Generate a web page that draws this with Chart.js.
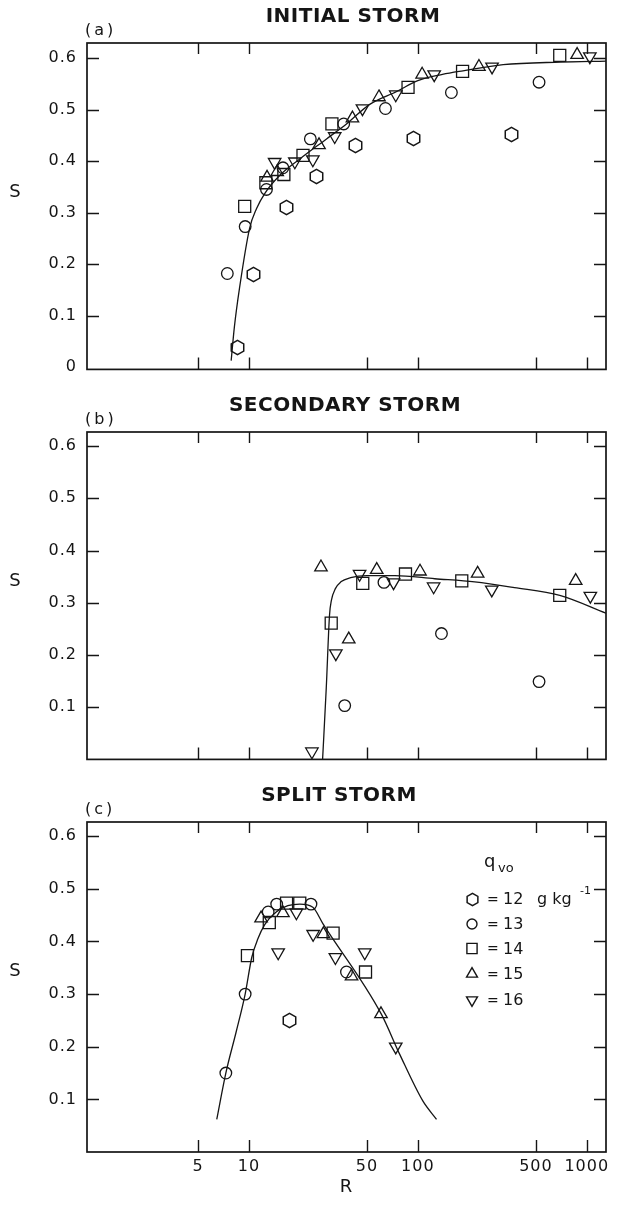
<!DOCTYPE html>
<html>
<head>
<meta charset="utf-8">
<script src="https://cdn.jsdelivr.net/npm/chart.js@4.4.1/dist/chart.umd.min.js"></script>
<style>
  html, body { margin: 0; padding: 0; background: #fff; }
  #wrap { position: relative; width: 621px; height: 1213px; }
  .panel { position: absolute; left: 0; width: 621px; }
</style>
</head>
<body>
<div id="wrap">
  <div class="panel" style="top:0;height:389px"><canvas id="chartA"></canvas></div>
  <div class="panel" style="top:389px;height:390px"><canvas id="chartB"></canvas></div>
  <div class="panel" style="top:779px;height:434px"><canvas id="chartC"></canvas></div>
</div>
<script>
(() => {
  const INK = "#151515";
  const FONT = "'DejaVu Sans', 'Liberation Sans', sans-serif";

  /* ---------- DATA ---------- */

  const X_TICKS = [5, 10, 50, 100, 500, 1000];
  const Y_TICKS = [0, 0.1, 0.2, 0.3, 0.4, 0.5, 0.6];
  const Q_LABELS = ["12", "13", "14", "15", "16"];

  // (a) initial storm, [R, S]
  const A_Q12 = [[8.5, 0.038], [10.6, 0.18], [16.7, 0.31], [25.1, 0.371], [42.9, 0.43], [94.9, 0.443], [358, 0.452]];
  const A_Q13 = [[7.45, 0.182], [9.5, 0.273], [12.7, 0.345], [15.9, 0.387], [23.1, 0.443], [36.4, 0.472], [64.3, 0.502], [158, 0.533], [522, 0.553]];
  const A_Q14 = [[9.44, 0.312], [12.6, 0.358], [16.1, 0.374], [20.9, 0.411], [31, 0.472], [87.5, 0.543], [184, 0.574], [692, 0.605]];
  const A_Q15 = [[12.8, 0.368], [14.7, 0.379], [26, 0.431], [41, 0.483], [58.9, 0.524], [106, 0.568], [230, 0.583], [877, 0.606]];
  const A_Q16 = [[14.2, 0.398], [18.7, 0.399], [23.9, 0.403], [32.2, 0.448], [47, 0.502], [74, 0.529], [125, 0.568], [275, 0.583], [1043, 0.603]];
  const A_CURVE = [[7.85, 0.013], [8.2, 0.078], [8.8, 0.154], [10.1, 0.27], [11.1, 0.308], [12.4, 0.337], [15.2, 0.372], [20, 0.404], [28.8, 0.443], [37.8, 0.472], [51.9, 0.51], [75, 0.535], [100, 0.556], [140, 0.568], [185, 0.575], [320, 0.587], [700, 0.592], [1300, 0.594]];

  // (b) secondary storm
  const B_Q12 = [];
  const B_Q13 = [[36.9, 0.103], [63, 0.339], [138, 0.241], [522, 0.149]];
  const B_Q14 = [[30.7, 0.261], [47.2, 0.337], [84.5, 0.355], [182, 0.342], [692, 0.314]];
  const B_Q15 = [[26.7, 0.368], [39, 0.23], [57.1, 0.363], [103, 0.36], [226, 0.356], [860, 0.342]];
  const B_Q16 = [[23.6, 0.015], [32.7, 0.203], [45.2, 0.355], [71.8, 0.339], [124, 0.331], [274, 0.325], [1050, 0.313]];
  const B_CURVE = [[27.3, 0], [28.7, 0.137], [30, 0.276], [30.8, 0.305], [32.5, 0.327], [35, 0.34], [40, 0.348], [50, 0.352], [73, 0.352], [126, 0.346], [217, 0.34], [373, 0.329], [692, 0.314], [1300, 0.28]];

  // (c) split storm
  const C_Q12 = [[17.3, 0.25]];
  const C_Q13 = [[7.3, 0.15], [9.5, 0.3], [13, 0.456], [14.6, 0.471], [23.3, 0.471], [37.8, 0.342]];
  const C_Q14 = [[9.8, 0.373], [13.2, 0.436], [16.7, 0.473], [20, 0.473], [31.5, 0.416], [49, 0.342]];
  const C_Q15 = [[11.8, 0.444], [15.9, 0.454], [27.6, 0.414], [40.5, 0.334], [60.5, 0.262]];
  const C_Q16 = [[14.9, 0.379], [19.1, 0.455], [24, 0.414], [32.5, 0.37], [48.5, 0.379], [74, 0.2]];
  const C_CURVE = [[6.45, 0.062], [7.3, 0.15], [8.4, 0.228], [9.5, 0.3], [10.4, 0.37], [11.3, 0.405], [12.4, 0.432], [14.5, 0.456], [17, 0.468], [20, 0.471], [23.9, 0.465], [27.4, 0.434], [60.8, 0.262], [78, 0.186], [107, 0.097], [129, 0.062]];

  /* ---------- MARKERS ---------- */

  // pointy-top hexagon; Chart.js has no such pointStyle, so it is an image
  function hexagonImage(r, lw) {
    const size = Math.ceil(r * 2 + lw * 2 + 2) | 1;
    const c = document.createElement("canvas");
    c.width = c.height = size;
    const g = c.getContext("2d");
    g.strokeStyle = INK;
    g.lineWidth = lw;
    g.beginPath();
    for (let i = 0; i < 6; i++) {
      const a = Math.PI / 3 * i - Math.PI / 2;
      const px = size / 2 + r * Math.cos(a);
      const py = size / 2 + r * Math.sin(a);
      if (i) g.lineTo(px, py); else g.moveTo(px, py);
    }
    g.closePath();
    g.stroke();
    return c;
  }

  const HEX_BIG = hexagonImage(7.2, 1.5);
  const HEX_SMALL = hexagonImage(6.2, 1.5);

  const MARKERS = [
    { style: HEX_BIG, radius: 7 },
    { style: "circle", radius: 5.8 },
    { style: "rect", radius: 8.5 },
    { style: "triangle", radius: 7.2 },
    { style: "triangle", radius: 7.2, rotation: 180 }
  ];
  const LEGEND_MARKERS = [
    { style: HEX_SMALL, radius: 6 },
    { style: "circle", radius: 5 },
    { style: "rect", radius: 7.2 },
    { style: "triangle", radius: 6.3 },
    { style: "triangle", radius: 6.3, rotation: 180 }
  ];

  /* ---------- HELPERS ---------- */

  function seriesDataset(points, i) {
    const m = MARKERS[i];
    return {
      label: "q = " + Q_LABELS[i],
      data: points.map(([x, y]) => ({ x, y })),
      showLine: false,
      pointStyle: m.style,
      pointRadius: m.radius,
      pointHoverRadius: m.radius,
      pointRotation: m.rotation || 0,
      pointBorderColor: INK,
      pointBackgroundColor: "rgba(0,0,0,0)",
      pointBorderWidth: 1.3
    };
  }

  function curveDataset(points) {
    return {
      label: "fit",
      data: points.map(([x, y]) => ({ x, y })),
      showLine: true,
      pointRadius: 0,
      borderColor: INK,
      borderWidth: 1.3,
      cubicInterpolationMode: "monotone",
      fill: false
    };
  }

  function drawMarker(ctx, m, x, y) {
    if (typeof m.style === "object") {
      ctx.drawImage(m.style, Math.round(x - m.style.width / 2), Math.round(y - m.style.height / 2));
      return;
    }
    ctx.save();
    ctx.strokeStyle = INK;
    ctx.fillStyle = "rgba(0,0,0,0)";
    Chart.helpers.drawPoint(ctx, {
      pointStyle: m.style,
      radius: m.radius,
      rotation: m.rotation || 0,
      borderWidth: 1.3
    }, x, y);
    ctx.restore();
  }

  const framePlugin = {
    id: "frame",
    beforeDraw(chart) {
      chart.ctx.letterSpacing = "1px";
      // keeps the hexagon images crisp when placed at fractional pixels
      chart.ctx.imageSmoothingEnabled = false;
    },
    afterDraw(chart, args, opts) {
      const { ctx, chartArea: a } = chart;
      const x = chart.scales.x, y = chart.scales.y;
      ctx.save();
      ctx.letterSpacing = "0px";
      ctx.strokeStyle = INK;
      ctx.lineWidth = 1.7;
      ctx.strokeRect(a.left, a.top, a.width, a.height);

      ctx.lineWidth = 1.4;
      ctx.beginPath();
      X_TICKS.forEach(v => {
        const px = Math.round(x.getPixelForValue(v)) + 0.5;
        ctx.moveTo(px, a.bottom); ctx.lineTo(px, a.bottom - 12);
        ctx.moveTo(px, a.top); ctx.lineTo(px, a.top + 11);
      });
      Y_TICKS.filter(v => v > 0).forEach(v => {
        const py = Math.round(y.getPixelForValue(v)) + 0.5;
        ctx.moveTo(a.left, py); ctx.lineTo(a.left + 12, py);
        ctx.moveTo(a.right, py); ctx.lineTo(a.right - 12, py);
      });
      ctx.stroke();

      ctx.fillStyle = INK;
      ctx.textBaseline = "middle";

      // panel title
      ctx.font = "bold 20px " + FONT;
      ctx.letterSpacing = "0.5px";
      ctx.textAlign = "center";
      ctx.fillText(opts.title, opts.titleX, a.top - 26);

      // panel letter
      ctx.font = "16px " + FONT;
      ctx.letterSpacing = "3px";
      ctx.textAlign = "left";
      ctx.fillText(opts.letter, a.left - 2, a.top - 12);

      // y label
      ctx.font = "18px " + FONT;
      ctx.letterSpacing = "0px";
      ctx.textAlign = "center";
      ctx.fillText("S", 15, a.top + 149);

      if (opts.legend) {
        const lx = 472, tx = 487;
        ctx.textAlign = "left";
        ctx.font = "18px " + FONT;
        ctx.fillText("q", 484, a.top + 40);
        ctx.font = "13px " + FONT;
        ctx.fillText("vo", 498, a.top + 47);
        const rows = [77, 102, 126.5, 152, 178];
        Q_LABELS.forEach((q, i) => {
          const ry = a.top + rows[i];
          drawMarker(ctx, LEGEND_MARKERS[i], lx, ry);
          ctx.font = "14px " + FONT;
          ctx.fillText("=", tx, ry + 1);
          ctx.font = "16px " + FONT;
          ctx.fillText(q, tx + 16, ry + 1);
          if (i === 0) {
            ctx.fillText("g kg", tx + 50, ry + 1);
            ctx.font = "11px " + FONT;
            ctx.fillText("-1", tx + 93, ry - 8);
          }
        });
      }
      ctx.restore();
    }
  };

  function makeChart(id, series, curve, cfg) {
    const datasets = series
      .map((pts, i) => (pts.length ? seriesDataset(pts, i) : null))
      .filter(Boolean);
    datasets.push(curveDataset(curve));

    const yTicks = cfg.zeroLabel ? Y_TICKS : Y_TICKS.filter(v => v > 0);

    return new Chart(document.getElementById(id), {
      type: "scatter",
      data: { datasets },
      plugins: [framePlugin],
      options: {
        responsive: true,
        maintainAspectRatio: false,
        animation: false,
        events: [],
        layout: { padding: { top: 43, right: 15, left: 0, bottom: 0 } },
        plugins: {
          legend: { display: false },
          tooltip: { enabled: false },
          frame: cfg
        },
        scales: {
          x: {
            type: "logarithmic",
            min: 1.1,
            max: 1300,
            grid: { display: false, drawTicks: false },
            border: { display: false },
            afterBuildTicks: s => { s.ticks = X_TICKS.map(v => ({ value: v })); },
            afterFit: s => { s.height = cfg.xHeight; },
            ticks: {
              display: cfg.showX,
              autoSkip: false,
              maxRotation: 0,
              padding: 5,
              color: INK,
              font: { family: FONT, size: 16 },
              callback: v => String(v)
            },
            title: {
              display: cfg.showX,
              text: "R",
              color: INK,
              font: { family: FONT, size: 18 },
              padding: { top: 0, bottom: 15 }
            }
          },
          y: {
            min: cfg.yMin,
            max: cfg.yMax,
            grid: { display: false, drawTicks: false },
            border: { display: false },
            afterBuildTicks: s => { s.ticks = yTicks.map(v => ({ value: v })); },
            afterFit: s => { s.width = 87; },
            ticks: {
              padding: 10,
              color: INK,
              font: { family: FONT, size: 16 },
              callback: v => (v === 0 ? "0" : v.toFixed(1))
            }
          }
        }
      }
    });
  }

  /* ---------- INIT ---------- */

  makeChart("chartA", [A_Q12, A_Q13, A_Q14, A_Q15, A_Q16], A_CURVE, {
    title: "INITIAL STORM", titleX: 353, letter: "(a)",
    zeroLabel: true, showX: false, xHeight: 16, yMin: -0.004, yMax: 0.629
  });
  makeChart("chartB", [B_Q12, B_Q13, B_Q14, B_Q15, B_Q16], B_CURVE, {
    title: "SECONDARY STORM", titleX: 345, letter: "(b)",
    zeroLabel: false, showX: false, xHeight: 17, yMin: 0, yMax: 0.627
  });
  makeChart("chartC", [C_Q12, C_Q13, C_Q14, C_Q15, C_Q16], C_CURVE, {
    title: "SPLIT STORM", titleX: 339, letter: "(c)",
    zeroLabel: false, showX: true, xHeight: 61, yMin: 0, yMax: 0.627, legend: true
  });
})();
</script>
</body>
</html>
